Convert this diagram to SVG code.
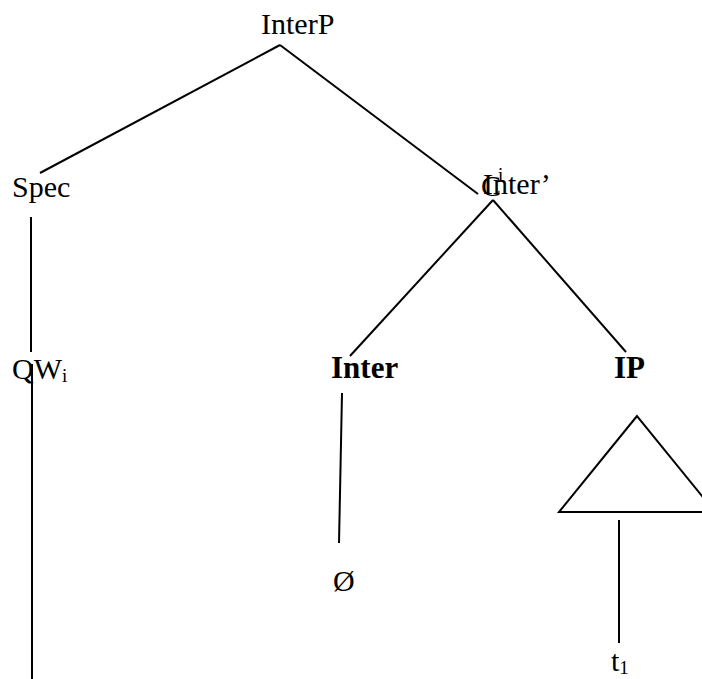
<svg xmlns="http://www.w3.org/2000/svg" width="702" height="679" viewBox="0 0 702 679">
  <style>
    .lbl { font-family: "Liberation Serif", "Times New Roman", serif; font-size: 30px; fill: #000; }
    .b { font-weight: bold; font-size: 31px; }
    .sub { font-size: 19px; }
    .edge { stroke: #000; stroke-width: 2; fill: none; }
  </style>
  <rect width="702" height="679" fill="#fff"/>
  <g id="connectors">
    <line class="edge" x1="280" y1="45" x2="40" y2="173"/>
    <line class="edge" x1="280" y1="45" x2="478" y2="194"/>
    <line class="edge" x1="493" y1="200" x2="350" y2="356"/>
    <line class="edge" x1="493" y1="200" x2="626" y2="352"/>
    <line class="edge" x1="31" y1="217" x2="31" y2="352"/>
    <line class="edge" x1="32" y1="364" x2="32" y2="679"/>
    <line class="edge" x1="342" y1="393" x2="339" y2="543"/>
    <polygon class="edge" points="637,416 559,512 715,512"/>
    <line class="edge" x1="619" y1="520" x2="619" y2="643"/>
  </g>
  <g id="interP"><text class="lbl" x="261" y="34">InterP</text></g>
  <g id="spec"><text class="lbl" x="12" y="197">Spec</text></g>
  <g id="interBar">
    <text class="lbl" x="483" y="194">Inter’</text>
    <text class="lbl" x="481" y="196">C</text>
    <text class="lbl sub" x="498" y="181">i</text>
  </g>
  <g id="qw"><text class="lbl" x="12" y="379">QW<tspan class="sub" dy="3">i</tspan></text></g>
  <g id="inter"><text class="lbl b" x="331" y="378">Inter</text></g>
  <g id="ip"><text class="lbl b" x="614" y="378">IP</text></g>
  <g id="empty"><text class="lbl" x="333" y="591">Ø</text></g>
  <g id="trace"><text class="lbl" x="611" y="671">t<tspan class="sub" dy="3">1</tspan></text></g>
</svg>
